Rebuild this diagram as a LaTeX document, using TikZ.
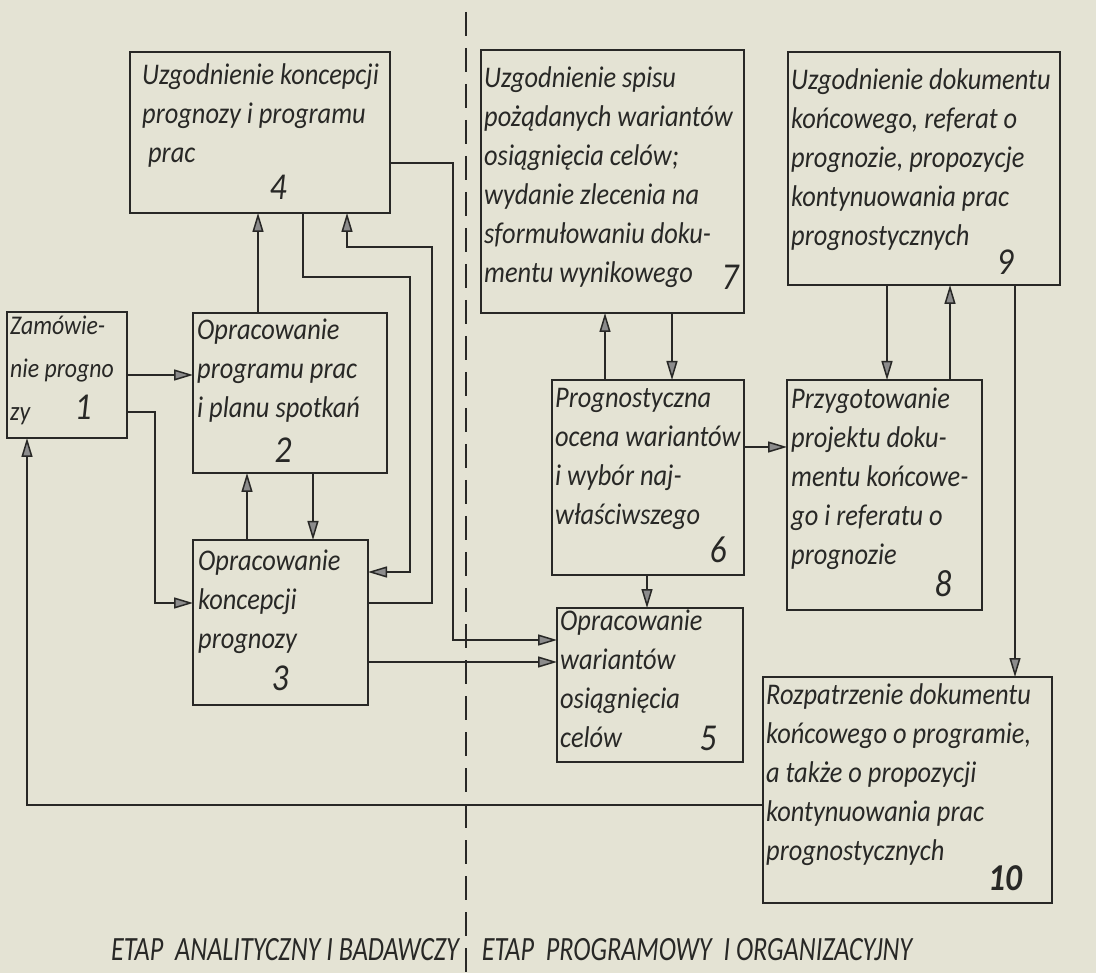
\documentclass[tikz,border=0pt]{standalone}
\usepackage{fontspec}
\setmainfont{Carlito}[FakeStretch=0.88]
\newfontfamily\narrowfont{Carlito}[FakeStretch=0.77]
\usetikzlibrary{arrows.meta}
\definecolor{paper}{RGB}{228,227,212}
\definecolor{ink}{RGB}{40,40,38}
\tikzset{
  box/.style={draw=ink, line width=1.6pt, anchor=north west, inner sep=0pt, outer sep=0pt},
  txt/.style={anchor=north west, inner sep=0pt, align=left, text=ink, font=\itshape\fontsize{30}{39}\selectfont},
  smalltxt/.style={txt, font=\itshape\fontsize{27}{43}\selectfont},
  num/.style={anchor=base, inner sep=0pt, text=ink, font=\itshape\fontsize{38}{40}\selectfont},
  lab/.style={inner sep=0pt, text=ink, font=\narrowfont\itshape\fontsize{34}{38}\selectfont},
  conn/.style={draw=ink, line width=1.5pt},
  arr/.style={conn, -{Triangle[length=19pt,width=11pt,fill=black!45]}},
  divider/.style={draw=ink, line width=1.6pt, dash pattern=on 24pt off 12pt}
}
\begin{document}
\begin{tikzpicture}[x=1pt,y=-1pt]
\useasboundingbox (0,0) rectangle (1096,973);
\fill[paper] (0,0) rectangle (1096,973);
% divider
\coordinate (dtop) at (466,12);
\coordinate (dbot) at (466,973);
\draw[divider] (dtop) -- (dbot);
% boxes
\node[box, minimum width=120pt, minimum height=126pt] (b1) at (7,312) {};
\node[box, minimum width=194pt, minimum height=160pt] (b2) at (193,313) {};
\node[box, minimum width=175pt, minimum height=165pt] (b3) at (193,540) {};
\node[box, minimum width=260pt, minimum height=161pt] (b4) at (130,52) {};
\node[box, minimum width=186pt, minimum height=154pt] (b5) at (557,608) {};
\node[box, minimum width=192pt, minimum height=195pt] (b6) at (552,380) {};
\node[box, minimum width=263pt, minimum height=263pt] (b7) at (481,50) {};
\node[box, minimum width=195pt, minimum height=230pt] (b8) at (787,380) {};
\node[box, minimum width=272pt, minimum height=233pt] (b9) at (788,52) {};
\node[box, minimum width=289pt, minimum height=226pt] (b10) at (763,677) {};
% texts
\node[smalltxt] (t1) at (10,316) {Zamówie-\\nie progno\\zy};
\node[txt] (t2) at (197,319) {Opracowanie\\programu prac\\i planu spotkań};
\node[txt] (t3) at (198,550) {Opracowanie\\koncepcji\\prognozy};
\node[txt] (t4) at (142,63) {Uzgodnienie koncepcji\\prognozy i programu\\\ prac};
\node[txt] (t5) at (560,610) {Opracowanie\\wariantów\\osiągnięcia\\celów};
\node[txt] (t6) at (555,388) {Prognostyczna\\ocena wariantów\\i wybór naj-\\właściwszego};
\node[txt] (t7) at (484,66) {Uzgodnienie spisu\\pożądanych wariantów\\osiągnięcia celów;\\wydanie zlecenia na\\sformułowaniu doku-\\mentu wynikowego};
\node[txt] (t8) at (791,388) {Przygotowanie\\projektu doku-\\mentu końcowe-\\go i referatu o\\prognozie};
\node[txt] (t9) at (791,68) {Uzgodnienie dokumentu\\końcowego, referat o\\prognozie, propozycje\\kontynuowania prac\\prognostycznych};
\node[txt] (t10) at (766,683) {Rozpatrzenie dokumentu\\końcowego o programie,\\a także o propozycji\\kontynuowania prac\\prognostycznych};
% numbers
\node[num] (n1) at (83,420) {1};
\node[num] (n2) at (283,463) {2};
\node[num] (n3) at (280,690) {3};
\node[num] (n4) at (278,200) {4};
\node[num] (n5) at (708,750) {5};
\node[num] (n6) at (718,562) {6};
\node[num] (n7) at (730,290) {7};
\node[num] (n8) at (943,597) {8};
\node[num] (n9) at (1005,275) {9};
\node[num] (n10) at (1005,890) {\bfseries 10};
% bottom labels
\node[lab] (l1) at (285,950) {ETAP\ \ ANALITYCZNY I BADAWCZY};
\node[lab] (l2) at (697,950) {ETAP\ \ PROGRAMOWY\ \ I ORGANIZACYJNY};
% connectors left part
\draw[arr] (b1.east |- 0,375) -- (b2.west |- 0,375);
\draw[arr] (b1.east |- 0,412) -- (155,412) -- (155,603) -- (b3.west |- 0,603);
\draw[arr] (b2.north -| 258,0) -- (b4.south -| 258,0);
\draw[arr] (b2.south -| 313,0) -- (b3.north -| 313,0);
\draw[arr] (b3.north -| 247,0) -- (b2.south -| 247,0);
\draw[arr] (b4.south -| 303,0) -- (303,277) -- (410,277) -- (410,572) -- (b3.east |- 0,572);
\draw[arr] (b3.east |- 0,603) -- (432,603) -- (432,247) -- (347,247) -- (b4.south -| 347,0);
\draw[arr] (b4.east |- 0,163) -- (453,163) -- (453,640) -- (b5.west |- 0,640);
\draw[arr] (b3.east |- 0,662) -- (b5.west |- 0,662);
\draw[arr] (b10.west |- 0,805) -- (27,805) -- (b1.south -| 27,0);
% connectors right part
\draw[arr] (b6.north -| 605,0) -- (b7.south -| 605,0);
\draw[arr] (b7.south -| 672,0) -- (b6.north -| 672,0);
\draw[arr] (b6.south -| 647,0) -- (b5.north -| 647,0);
\draw[arr] (b6.east |- 0,447) -- (b8.west |- 0,447);
\draw[arr] (b9.south -| 887,0) -- (b8.north -| 887,0);
\draw[arr] (b8.north -| 950,0) -- (b9.south -| 950,0);
\draw[arr] (b9.south -| 1015,0) -- (b10.north -| 1015,0);
\end{tikzpicture}
\end{document}
